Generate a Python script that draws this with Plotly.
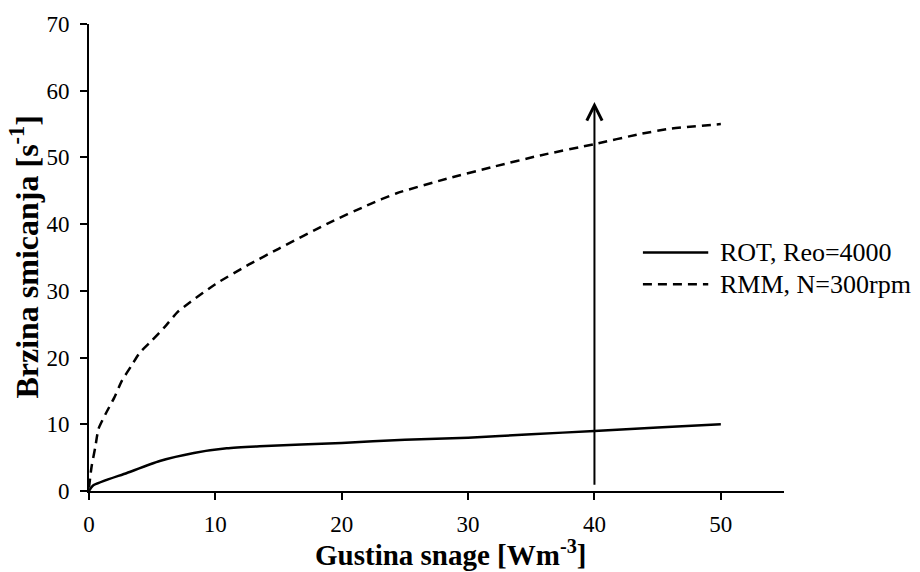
import plotly.graph_objects as go

# ROT, Reo=4000 (solid)
rot_x = [0, 0.3, 3, 5.6, 8.3, 10.9, 13.5, 20, 25, 30, 35, 40, 45, 50]
rot_y = [0, 0.8, 2.7, 4.5, 5.7, 6.4, 6.7, 7.2, 7.7, 8.0, 8.5, 9.0, 9.5, 10.0]

# RMM, N=300rpm (dashed)
rmm_x = [0, 0.2, 0.5, 0.75, 1.3, 2, 2.6, 3.4, 4, 5, 6, 7, 8, 10, 12.7, 15, 19, 22, 24.3, 28.3, 32, 35.7, 40, 43.6, 46, 50]
rmm_y = [0.5, 3.6, 6.6, 9.3, 11.5, 14.0, 16.5, 18.9, 20.7, 22.6, 24.6, 26.8, 28.3, 31.0, 34.0, 36.3, 40.2, 42.8, 44.6, 46.8, 48.6, 50.3, 52.0, 53.5, 54.3, 55.0]

# arrow
arrow_x = 40
arrow_y0 = 0.7
arrow_y1 = 58.3

x_ticks = [0, 10, 20, 30, 40, 50]
y_ticks = [0, 10, 20, 30, 40, 50, 60, 70]

names = ["ROT, Reo=4000", "RMM, N=300rpm"]
x_title = "<b>Gustina snage [Wm<sup>-3</sup>]</b>"
y_title = "<b>Brzina smicanja [s<sup>-1</sup>]</b>"
FONT = "Liberation Serif"

fig = go.Figure()
fig.add_trace(go.Scatter(x=rot_x, y=rot_y, mode="lines", name=names[0],
                         line=dict(color="black", width=2.5, shape="spline", smoothing=0.6),
                         showlegend=False))
fig.add_trace(go.Scatter(x=rmm_x, y=rmm_y, mode="lines", name=names[1],
                         line=dict(color="black", width=2.5, dash="9px,6px", shape="spline", smoothing=0.6),
                         showlegend=False))

fig.add_annotation(x=arrow_x, y=arrow_y1, ax=arrow_x, ay=arrow_y0, xref="x", yref="y",
                   axref="x", ayref="y", showarrow=True, arrowhead=5, arrowsize=1.5,
                   arrowwidth=2, arrowcolor="black", text="")

# manual legend
leg_y = [0.5106, 0.4428]
dashes = ["solid", "9px,6px"]
for i in range(2):
    fig.add_shape(type="line", xref="paper", yref="paper", x0=0.797, x1=0.891,
                  y0=leg_y[i], y1=leg_y[i], line=dict(color="black", width=2.5, dash=dashes[i]))
    fig.add_annotation(xref="paper", yref="paper", x=0.905, y=leg_y[i], text=names[i],
                       showarrow=False, xanchor="left", yanchor="middle",
                       font=dict(family=FONT, size=26, color="black"))

# axis titles
fig.add_annotation(xref="paper", yref="paper", x=0.521, y=-0.1335, text=x_title,
                   showarrow=False, xanchor="center", yanchor="middle",
                   font=dict(family=FONT, size=29, color="black"))
fig.add_annotation(xref="paper", yref="paper", x=-0.0935, y=0.502, text=y_title,
                   showarrow=False, xanchor="center", yanchor="middle", textangle=-90,
                   font=dict(family=FONT, size=32, color="black"))

fig.update_layout(
    width=920, height=572,
    margin=dict(l=89, r=136, t=19, b=81),
    paper_bgcolor="white", plot_bgcolor="white",
    font=dict(family=FONT, size=23, color="black"),
    xaxis=dict(range=[0, 55], tickvals=x_ticks, showgrid=False, zeroline=False,
               showline=True, linecolor="black", linewidth=2, ticks="outside",
               ticklen=7, tickwidth=2, tickcolor="black", ticklabelstandoff=4,
               tickfont=dict(family=FONT, size=23, color="black")),
    yaxis=dict(range=[0, 70], tickvals=y_ticks, showgrid=False, zeroline=False,
               showline=True, linecolor="black", linewidth=2, ticks="outside",
               ticklen=7, tickwidth=2, tickcolor="black", ticklabelstandoff=6,
               tickfont=dict(family=FONT, size=23, color="black")),
)

fig.write_html("out.html")
